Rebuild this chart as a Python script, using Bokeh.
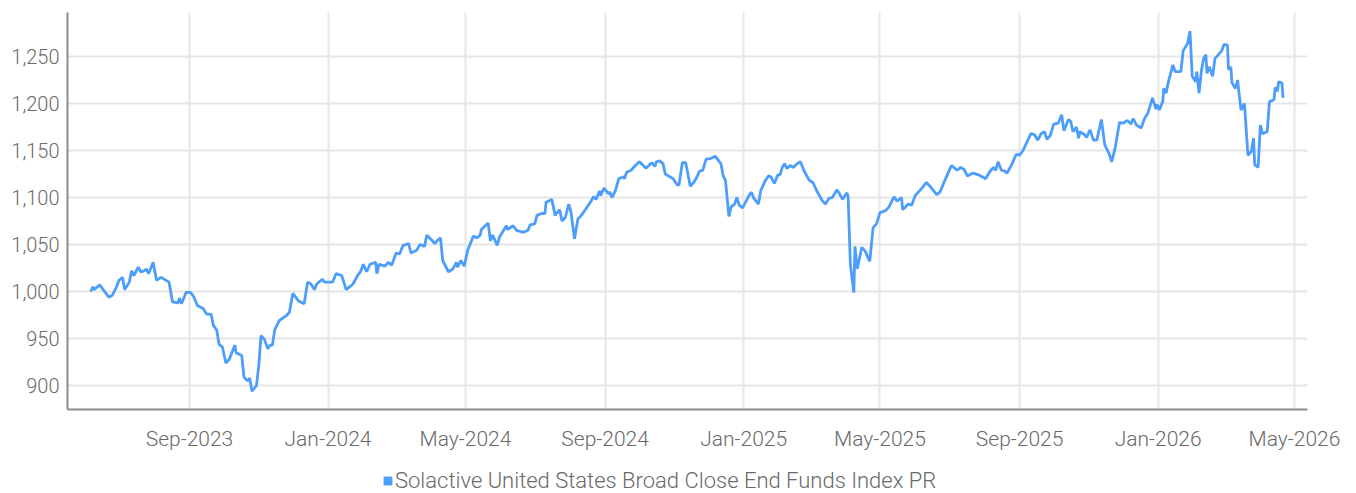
import pandas as pd
from bokeh.plotting import figure
from bokeh.layouts import column
from bokeh.models import (ColumnDataSource, FixedTicker, DatetimeTickFormatter,
                          NumeralTickFormatter, Range1d, Legend, LegendItem)
from bokeh.embed import file_html
from bokeh.resources import INLINE

series_name = "Solactive United States Broad Close End Funds Index PR"

dates = [
    "2023-06-06", "2023-06-08", "2023-06-09", "2023-06-14", "2023-06-17", "2023-06-22", "2023-06-25", "2023-06-28",
    "2023-07-01", "2023-07-04", "2023-07-06", "2023-07-10", "2023-07-12", "2023-07-14", "2023-07-18", "2023-07-20",
    "2023-07-23", "2023-07-25", "2023-07-27", "2023-07-31", "2023-08-03", "2023-08-07", "2023-08-14", "2023-08-17",
    "2023-08-22", "2023-08-23", "2023-08-25", "2023-08-29", "2023-09-02", "2023-09-05", "2023-09-08", "2023-09-13",
    "2023-09-16", "2023-09-20", "2023-09-22", "2023-09-25", "2023-09-27", "2023-09-30", "2023-10-03", "2023-10-06",
    "2023-10-11", "2023-10-12", "2023-10-17", "2023-10-19", "2023-10-22", "2023-10-24", "2023-10-26", "2023-10-30",
    "2023-11-01", "2023-11-03", "2023-11-06", "2023-11-09", "2023-11-11", "2023-11-13", "2023-11-15", "2023-11-19",
    "2023-11-25", "2023-11-28", "2023-12-01", "2023-12-06", "2023-12-11", "2023-12-14", "2023-12-17", "2023-12-20",
    "2023-12-22", "2023-12-27", "2023-12-29", "2024-01-05", "2024-01-08", "2024-01-13", "2024-01-17", "2024-01-23",
    "2024-01-27", "2024-01-30", "2024-02-01", "2024-02-04", "2024-02-07", "2024-02-12", "2024-02-13", "2024-02-15",
    "2024-02-20", "2024-02-23", "2024-02-26", "2024-03-01", "2024-03-04", "2024-03-07", "2024-03-12", "2024-03-14",
    "2024-03-19", "2024-03-22", "2024-03-26", "2024-03-28", "2024-04-01", "2024-04-04", "2024-04-06", "2024-04-09",
    "2024-04-11", "2024-04-16", "2024-04-20", "2024-04-23", "2024-04-24", "2024-04-27", "2024-04-30", "2024-05-03",
    "2024-05-08", "2024-05-11", "2024-05-14", "2024-05-15", "2024-05-21", "2024-05-23", "2024-05-25", "2024-05-29",
    "2024-05-31", "2024-06-06", "2024-06-07", "2024-06-12", "2024-06-15", "2024-06-21", "2024-06-25", "2024-06-27",
    "2024-07-01", "2024-07-03", "2024-07-07", "2024-07-10", "2024-07-11", "2024-07-16", "2024-07-19", "2024-07-23",
    "2024-07-25", "2024-07-28", "2024-07-31", "2024-08-02", "2024-08-05", "2024-08-08", "2024-08-11", "2024-08-14",
    "2024-08-19", "2024-08-22", "2024-08-24", "2024-08-27", "2024-08-28", "2024-08-31", "2024-09-04", "2024-09-05",
    "2024-09-07", "2024-09-10", "2024-09-13", "2024-09-17", "2024-09-18", "2024-09-20", "2024-09-24", "2024-09-26",
    "2024-10-01", "2024-10-03", "2024-10-07", "2024-10-12", "2024-10-15", "2024-10-16", "2024-10-19", "2024-10-22",
    "2024-10-24", "2024-10-28", "2024-10-31", "2024-11-03", "2024-11-05", "2024-11-08", "2024-11-11", "2024-11-15",
    "2024-11-18", "2024-11-21", "2024-11-23", "2024-11-26", "2024-11-29", "2024-12-02", "2024-12-07", "2024-12-10",
    "2024-12-12", "2024-12-14", "2024-12-16", "2024-12-19", "2024-12-21", "2024-12-24", "2024-12-26", "2024-12-28",
    "2024-12-31", "2025-01-04", "2025-01-07", "2025-01-08", "2025-01-10", "2025-01-14", "2025-01-16", "2025-01-20",
    "2025-01-23", "2025-01-25", "2025-01-28", "2025-01-31", "2025-02-02", "2025-02-04", "2025-02-06", "2025-02-08",
    "2025-02-11", "2025-02-14", "2025-02-16", "2025-02-20", "2025-02-23", "2025-02-26", "2025-02-28", "2025-03-03",
    "2025-03-06", "2025-03-11", "2025-03-14", "2025-03-17", "2025-03-20", "2025-03-24", "2025-03-26", "2025-03-29",
    "2025-04-02", "2025-04-03", "2025-04-05", "2025-04-08", "2025-04-09", "2025-04-11", "2025-04-15", "2025-04-18",
    "2025-04-22", "2025-04-25", "2025-04-28", "2025-05-01", "2025-05-06", "2025-05-09", "2025-05-13", "2025-05-14",
    "2025-05-16", "2025-05-20", "2025-05-21", "2025-05-26", "2025-05-29", "2025-06-01", "2025-06-07", "2025-06-11",
    "2025-06-14", "2025-06-20", "2025-06-23", "2025-06-26", "2025-06-30", "2025-07-03", "2025-07-08", "2025-07-11",
    "2025-07-14", "2025-07-17", "2025-07-22", "2025-07-27", "2025-07-30", "2025-08-02", "2025-08-06", "2025-08-09",
    "2025-08-11", "2025-08-13", "2025-08-16", "2025-08-19", "2025-08-21", "2025-08-25", "2025-08-29", "2025-09-01",
    "2025-09-04", "2025-09-07", "2025-09-11", "2025-09-14", "2025-09-17", "2025-09-20", "2025-09-23", "2025-09-25",
    "2025-09-28", "2025-10-01", "2025-10-05", "2025-10-08", "2025-10-10", "2025-10-14", "2025-10-16", "2025-10-18",
    "2025-10-21", "2025-10-23", "2025-10-24", "2025-10-28", "2025-10-30", "2025-11-02", "2025-11-05", "2025-11-08",
    "2025-11-12", "2025-11-15", "2025-11-19", "2025-11-21", "2025-11-24", "2025-11-28", "2025-12-01", "2025-12-05",
    "2025-12-08", "2025-12-10", "2025-12-13", "2025-12-17", "2025-12-20", "2025-12-23", "2025-12-27", "2025-12-30",
    "2025-12-31", "2026-01-02", "2026-01-05", "2026-01-06", "2026-01-08", "2026-01-10", "2026-01-14", "2026-01-16",
    "2026-01-21", "2026-01-23", "2026-01-27", "2026-01-29", "2026-01-31", "2026-02-03", "2026-02-04", "2026-02-06",
    "2026-02-08", "2026-02-10", "2026-02-12", "2026-02-13", "2026-02-15", "2026-02-18", "2026-02-20", "2026-02-23",
    "2026-02-26", "2026-02-28", "2026-03-03", "2026-03-04", "2026-03-06", "2026-03-07", "2026-03-10", "2026-03-12",
    "2026-03-13", "2026-03-15", "2026-03-18", "2026-03-21", "2026-03-24", "2026-03-26", "2026-03-27", "2026-03-30",
    "2026-04-01", "2026-04-03", "2026-04-07", "2026-04-09", "2026-04-13", "2026-04-14", "2026-04-16", "2026-04-17",
    "2026-04-20", "2026-04-21",
]

values = [
    1000, 1005, 1002, 1007, 1002, 994, 996, 1003,
    1012, 1015, 1002, 1010, 1022, 1017, 1026, 1021,
    1022, 1024, 1019, 1031, 1012, 1015, 1010, 989,
    988, 993, 987, 999, 999, 994, 985, 982,
    976, 976, 964, 959, 944, 941, 924, 928,
    943, 935, 932, 909, 905, 908, 894, 900,
    921, 953, 949, 939, 943, 943, 959, 969,
    974, 978, 998, 990, 987, 1010, 1008, 1002,
    1008, 1013, 1010, 1010, 1019, 1017, 1002, 1008,
    1017, 1022, 1029, 1021, 1029, 1031, 1019, 1029,
    1027, 1031, 1028, 1041, 1040, 1049, 1051, 1041,
    1044, 1050, 1048, 1060, 1055, 1051, 1054, 1057,
    1033, 1021, 1024, 1031, 1026, 1033, 1027, 1044,
    1059, 1057, 1060, 1066, 1073, 1054, 1060, 1049,
    1058, 1070, 1066, 1070, 1065, 1063, 1065, 1071,
    1072, 1081, 1083, 1083, 1095, 1098, 1081, 1087,
    1075, 1079, 1093, 1084, 1056, 1077, 1081, 1086,
    1095, 1101, 1098, 1107, 1102, 1110, 1104, 1106,
    1100, 1107, 1120, 1122, 1120, 1127, 1129, 1132,
    1138, 1136, 1131, 1137, 1133, 1138, 1139, 1136,
    1125, 1122, 1120, 1114, 1113, 1137, 1137, 1112,
    1116, 1122, 1128, 1129, 1141, 1141, 1144, 1139,
    1136, 1123, 1118, 1080, 1090, 1093, 1100, 1092,
    1089, 1098, 1105, 1105, 1099, 1093, 1107, 1118,
    1123, 1122, 1115, 1124, 1124, 1132, 1136, 1131,
    1134, 1132, 1135, 1138, 1129, 1122, 1118, 1116,
    1108, 1097, 1093, 1099, 1100, 1108, 1105, 1098,
    1105, 1100, 1028, 999, 1048, 1024, 1047, 1043,
    1032, 1068, 1072, 1084, 1086, 1090, 1100, 1100,
    1096, 1100, 1087, 1093, 1092, 1102, 1110, 1116,
    1112, 1103, 1106, 1115, 1126, 1134, 1129, 1132,
    1130, 1123, 1126, 1124, 1122, 1120, 1128, 1132,
    1129, 1138, 1129, 1128, 1126, 1135, 1146, 1145,
    1150, 1158, 1168, 1167, 1161, 1168, 1170, 1162,
    1166, 1178, 1179, 1188, 1171, 1183, 1181, 1170,
    1175, 1163, 1170, 1167, 1164, 1172, 1161, 1161,
    1183, 1156, 1146, 1138, 1152, 1180, 1179, 1182,
    1178, 1184, 1177, 1174, 1184, 1190, 1206, 1194,
    1199, 1193, 1202, 1216, 1211, 1223, 1241, 1234,
    1234, 1256, 1264, 1277, 1229, 1223, 1234, 1211,
    1234, 1248, 1252, 1232, 1239, 1229, 1248, 1252,
    1256, 1263, 1262, 1236, 1239, 1222, 1216, 1225,
    1213, 1193, 1200, 1145, 1149, 1163, 1135, 1132,
    1177, 1168, 1170, 1202, 1204, 1217, 1213, 1223,
    1222, 1206,
]

y_ticks = [900, 950, 1000, 1050, 1100, 1150, 1200, 1250]
x_tick_dates = ["2023-09-01", "2024-01-01", "2024-05-01", "2024-09-01", "2025-01-01",
                "2025-05-01", "2025-09-01", "2026-01-01", "2026-05-01"]

line_color = "#4d9dfa"
font = "Roboto Light, Roboto"
text_color = "#6a6a6a"

source = ColumnDataSource(dict(date=pd.to_datetime(dates), value=values))

x_start = pd.Timestamp("2023-05-16 14:00")
x_end = pd.Timestamp("2026-05-12 12:00")

p = figure(width=1356, height=455, x_axis_type="datetime",
           x_range=Range1d(x_start, x_end), y_range=Range1d(874.5, 1296.8),
           output_backend="svg", toolbar_location=None,
           min_border_left=67, min_border_right=49, min_border_top=12, min_border_bottom=46)
p.outline_line_color = None
p.background_fill_color = "white"
p.border_fill_color = "white"

p.line("date", "value", source=source, line_color=line_color, line_width=2.8)

tick_ms = [pd.Timestamp(d).value / 1e6 for d in x_tick_dates]
p.xaxis.ticker = FixedTicker(ticks=tick_ms)
p.xaxis.formatter = DatetimeTickFormatter(months="%b-%Y", days="%b-%Y", years="%b-%Y")
p.yaxis.ticker = FixedTicker(ticks=y_ticks)
p.yaxis.formatter = NumeralTickFormatter(format="0,0")

for ax in (p.xaxis[0], p.yaxis[0]):
    ax.axis_line_color = "#8c8c8c"
    ax.axis_line_width = 2
    ax.major_tick_line_color = None
    ax.minor_tick_line_color = None
    ax.major_label_text_font = font
    ax.major_label_text_color = text_color
p.xaxis.major_label_text_font_size = "21px"
p.yaxis.major_label_text_font_size = "20px"
p.xaxis.major_label_standoff = 11
p.yaxis.major_label_standoff = 2

p.xgrid.ticker = FixedTicker(ticks=tick_ms)
p.ygrid.ticker = FixedTicker(ticks=y_ticks)
p.grid.grid_line_color = "#e6e6e6"
p.grid.grid_line_width = 2

# legend row, drawn in its own small figure beneath the chart
lg = figure(width=1356, height=38, x_range=Range1d(0, 1), y_range=Range1d(0, 1),
            x_axis_location=None, y_axis_location=None,
            output_backend="svg", toolbar_location=None,
            min_border_left=0, min_border_right=0, min_border_top=0, min_border_bottom=0)
lg.grid.visible = False
lg.outline_line_color = None
# off-screen box so the legend swatch is drawn as a filled square
sq = lg.quad(left=[5], right=[6], bottom=[5], top=[6], fill_color=line_color, line_color=None)
legend = Legend(items=[LegendItem(label=series_name, renderers=[sq])],
                location=(315, 0), orientation="horizontal",
                label_text_font=font, label_text_font_size="22px",
                label_text_color=text_color, glyph_width=11, glyph_height=11,
                label_standoff=2, margin=0, padding=2, border_line_color=None,
                background_fill_alpha=0)
lg.add_layout(legend, "center")

open("out.html", "w").write(file_html(column(p, lg, spacing=0), INLINE))
